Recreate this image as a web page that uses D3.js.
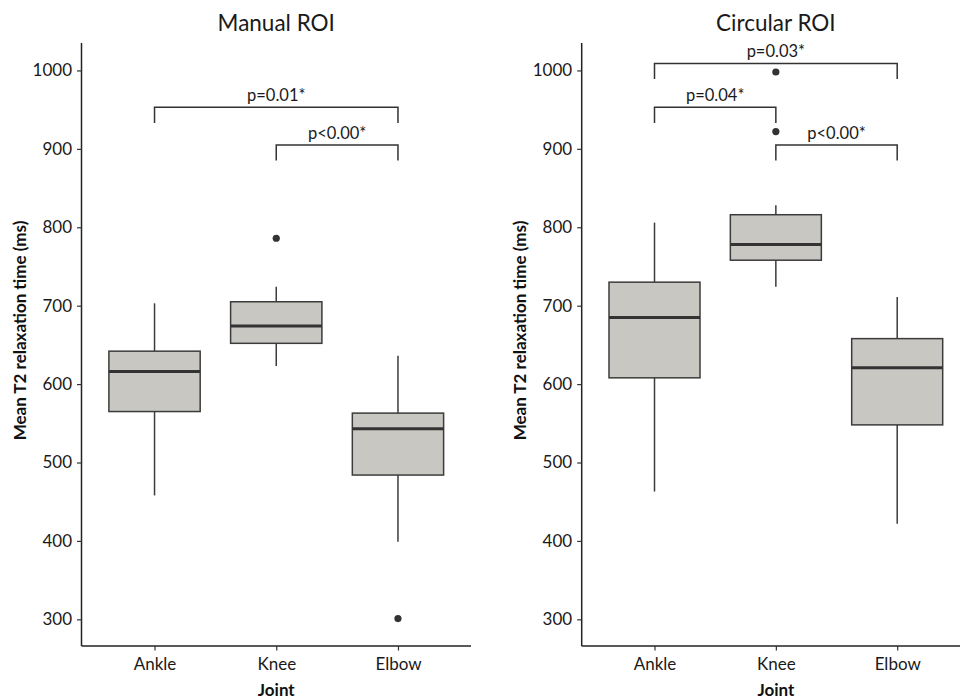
<!DOCTYPE html>
<html>
<head>
<meta charset="utf-8">
<script src="https://cdn.jsdelivr.net/npm/d3@7"></script>
<style>
  body { margin: 0; background: #fff; }
  svg { display: block; font-family: Lato, "Open Sans", sans-serif; }
</style>
</head>
<body>
<div id="chart"></div>
<script>
// ---- data ----
const joints = ["Ankle", "Knee", "Elbow"];
const yTicks = [300, 400, 500, 600, 700, 800, 900, 1000];

// [lower whisker, Q1, median, Q3, upper whisker] per joint
const manualStats = [
    [458, 565, 616, 642, 703],
    [623, 652, 674, 705, 724],
    [399, 484, 543, 563, 636]
];
const manualOutliers = [[], [786], [301]];
const manualBrackets = [
    { from: "Ankle", to: "Elbow", y: 953, label: "p=0.01*" },
    { from: "Knee", to: "Elbow", y: 905, label: "p<0.00*" }
];

const circularStats = [
    [463, 608, 685, 730, 806],
    [724, 758, 778, 816, 828],
    [422, 548, 621, 658, 711]
];
const circularOutliers = [[], [922, 998], []];
const circularBrackets = [
    { from: "Ankle", to: "Elbow", y: 1009, label: "p=0.03*" },
    { from: "Ankle", to: "Knee", y: 953, label: "p=0.04*" },
    { from: "Knee", to: "Elbow", y: 905, label: "p<0.00*" }
];

// ---- settings ----
const width = 960;
const height = 699;
const plotTop = 43, plotBottom = 646;
const boxFill = "#c8c7c2";
const ink = "#3c3c3c";
const textColour = "#1a1a1a";

const svg = d3.select("#chart").append("svg")
    .attr("width", width)
    .attr("height", height);

const y = d3.scaleLinear().domain([266, 1035]).range([plotBottom, plotTop]);

drawPanel(81.5, 471, "Manual ROI", manualStats, manualOutliers, manualBrackets);
drawPanel(581.7, 970, "Circular ROI", circularStats, circularOutliers, circularBrackets);

function drawPanel(x0, x1, title, stats, outliers, brackets) {
    const g = svg.append("g");

    // discrete axis with ggplot style expansion (0.6 on each side)
    const xPos = d3.scaleLinear().domain([0.4, 3.6]).range([x0, x1]);
    const step = xPos(2) - xPos(1);
    const bw = step * 0.75;
    const xc = name => xPos(joints.indexOf(name) + 1);

    const rows = joints.map((j, i) => ({
        joint: j,
        lo: stats[i][0], q1: stats[i][1], med: stats[i][2], q3: stats[i][3], hi: stats[i][4],
        out: outliers[i]
    }));

    // whiskers
    g.selectAll(".wh").data(rows).join("line")
        .attr("x1", d => xc(d.joint)).attr("x2", d => xc(d.joint))
        .attr("y1", d => y(d.lo)).attr("y2", d => y(d.q1))
        .attr("stroke", ink).attr("stroke-width", 1.5);
    g.selectAll(".wh2").data(rows).join("line")
        .attr("x1", d => xc(d.joint)).attr("x2", d => xc(d.joint))
        .attr("y1", d => y(d.q3)).attr("y2", d => y(d.hi))
        .attr("stroke", ink).attr("stroke-width", 1.5);

    // boxes
    g.selectAll("rect").data(rows).join("rect")
        .attr("x", d => xc(d.joint) - bw / 2)
        .attr("width", bw)
        .attr("y", d => y(d.q3))
        .attr("height", d => y(d.q1) - y(d.q3))
        .attr("fill", boxFill)
        .attr("stroke", ink)
        .attr("stroke-width", 1.5);

    // medians
    g.selectAll(".med").data(rows).join("line")
        .attr("x1", d => xc(d.joint) - bw / 2).attr("x2", d => xc(d.joint) + bw / 2)
        .attr("y1", d => y(d.med)).attr("y2", d => y(d.med))
        .attr("stroke", "#333").attr("stroke-width", 3);

    // outliers
    const pts = rows.flatMap(d => d.out.map(v => ({ joint: d.joint, v })));
    g.selectAll("circle").data(pts).join("circle")
        .attr("cx", d => xc(d.joint))
        .attr("cy", d => y(d.v))
        .attr("r", 3.6)
        .attr("fill", "#333");

    // significance brackets
    const drop = 20;
    g.selectAll(".br").data(brackets).join("path")
        .attr("d", d => {
            const a = xc(d.from), b = xc(d.to);
            return `M${a},${y(d.y - drop)}V${y(d.y)}H${b}V${y(d.y - drop)}`;
        })
        .attr("fill", "none")
        .attr("stroke", "#333")
        .attr("stroke-width", 1.5);
    g.selectAll(".bl").data(brackets).join("text")
        .attr("x", d => (xc(d.from) + xc(d.to)) / 2)
        .attr("y", d => y(d.y) - 6)
        .attr("text-anchor", "middle")
        .attr("font-size", 16.5)
        .attr("fill", textColour)
        .text(d => d.label);

    // axes
    const yAxis = g.append("g")
        .attr("transform", `translate(${x0},0)`)
        .call(d3.axisLeft(y).tickValues(yTicks).tickSize(4.5).tickPadding(5).tickFormat(d3.format("d")));
    const xAxis = g.append("g")
        .attr("transform", `translate(0,${plotBottom})`)
        .call(d3.axisBottom(xPos).tickValues([1, 2, 3]).tickSize(4.5).tickPadding(7)
            .tickFormat(d => joints[d - 1]));
    [yAxis, xAxis].forEach(ax => {
        ax.select(".domain").attr("stroke", "#222").attr("stroke-width", 1.5);
        ax.selectAll(".tick line").attr("stroke", "#333").attr("stroke-width", 1.2);
        ax.selectAll(".tick text").attr("font-size", 17).attr("fill", textColour)
            .attr("font-family", "Lato, sans-serif");
    });
    yAxis.select(".domain").attr("d", `M0,${plotTop}V${plotBottom}`);
    xAxis.select(".domain").attr("d", `M${x0},0H${x1}`);

    // titles
    g.append("text")
        .attr("x", (x0 + x1) / 2).attr("y", 31)
        .attr("text-anchor", "middle")
        .attr("font-size", 22.5)
        .attr("fill", textColour)
        .text(title);
    g.append("text")
        .attr("x", (x0 + x1) / 2).attr("y", 696)
        .attr("text-anchor", "middle")
        .attr("font-size", 17)
        .attr("font-weight", "bold")
        .attr("fill", "#111")
        .text("Joint");
    g.append("text")
        .attr("transform", `translate(${x0 - 56},${(plotTop + plotBottom) / 2 - 14}) rotate(-90)`)
        .attr("text-anchor", "middle")
        .attr("font-size", 17)
        .attr("font-weight", "bold")
        .attr("fill", "#111")
        .text("Mean T2 relaxation time (ms)");
}
</script>
</body>
</html>
